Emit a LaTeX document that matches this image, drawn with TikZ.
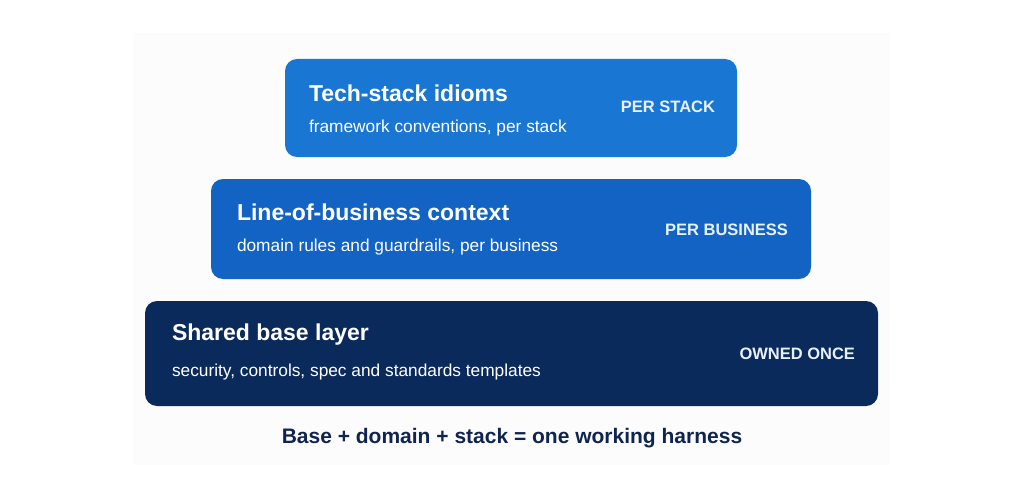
\documentclass[tikz,border=0pt]{standalone}
\usepackage{fontspec}
\setmainfont{Liberation Sans}
\usepackage{xcolor}
\definecolor{panel}{HTML}{FCFCFD}
\definecolor{stackc}{HTML}{1976D2}
\definecolor{busc}{HTML}{1363C4}
\definecolor{basec}{HTML}{0B2A5C}
\definecolor{navy}{HTML}{0F2550}
\definecolor{tagc}{HTML}{E8F1FB}
\usetikzlibrary{positioning,calc}
\tikzset{
  layer/.style={rounded corners=12pt,inner sep=0pt,draw=none},
  ttl/.style={anchor=west,inner sep=0pt,text=white,font=\fontsize{23}{27}\selectfont\bfseries},
  sub/.style={anchor=west,inner sep=0pt,text=white,font=\fontsize{17.3}{20}\selectfont},
  tag/.style={anchor=east,inner sep=0pt,text=tagc,font=\fontsize{16.5}{19}\selectfont\bfseries},
  sumtxt/.style={inner sep=0pt,text=navy,font=\fontsize{21}{25}\selectfont\bfseries},
}
\begin{document}
\begin{tikzpicture}[x=1pt,y=-1pt]
\useasboundingbox[fill=white] (0,0) rectangle (1024,500);
\fill[panel] (133,33) rectangle (890,465);
% the three layers, top to bottom
\node[layer,fill=stackc,minimum width=452pt,minimum height=98pt] (stack) at (511,108) {};
\node[layer,fill=busc,minimum width=600pt,minimum height=100pt] (biz) at (511,229) {};
\node[layer,fill=basec,minimum width=733pt,minimum height=105pt] (base) at (511.5,353.5) {};
% texts
\node[ttl] (stackT) at ($(stack.north west)+(24,34)$) {Tech-stack idioms};
\node[sub] (stackS) at ($(stack.north west)+(24,69)$) {framework conventions, per stack};
\node[tag] (stackG) at ($(stack.east)+(-22,-1)$) {PER STACK};
\node[ttl] (bizT) at ($(biz.north west)+(26,33)$) {Line-of-business context};
\node[sub] (bizS) at ($(biz.north west)+(26,68)$) {domain rules and guardrails, per business};
\node[tag] (bizG) at ($(biz.east)+(-23,1)$) {PER BUSINESS};
\node[ttl] (baseT) at ($(base.north west)+(27,34)$) {Shared base layer};
\node[sub] (baseS) at ($(base.north west)+(27,71)$) {security, controls, spec and standards templates};
\node[tag] (baseG) at ($(base.east)+(-23,0.5)$) {OWNED ONCE};
\node[sumtxt] (sum) at (512,438) {Base + domain + stack = one working harness};
\end{tikzpicture}
\end{document}
